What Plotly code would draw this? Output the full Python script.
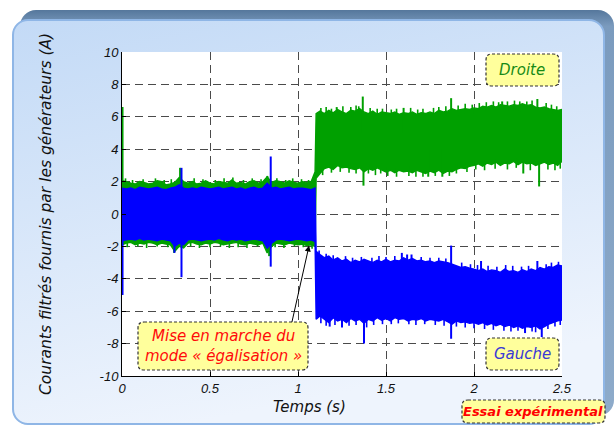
import base64
import plotly.graph_objects as go

# ---------------- data ----------------
t_pre = [0.0, 0.025, 0.05, 0.075, 0.1, 0.125, 0.15, 0.175, 0.2,
         0.225, 0.25, 0.275, 0.3, 0.325, 0.35, 0.375, 0.4, 0.425,
         0.45, 0.475, 0.5, 0.525, 0.55, 0.575, 0.6, 0.625, 0.65,
         0.675, 0.7, 0.725, 0.75, 0.775, 0.8, 0.825, 0.85, 0.875,
         0.9, 0.925, 0.95, 0.975, 1.0, 1.025, 1.05, 1.075, 1.097]
green_hi_pre = [2.05, 2.0, 1.9, 1.85, 2.0, 1.95, 1.85, 1.9, 2.05,
                2.0, 1.8, 1.85, 1.95, 2.25, 2.0, 1.9, 2.0, 1.85,
                1.9, 2.05, 1.9, 1.85, 2.0, 1.95, 1.9, 2.1, 1.9,
                1.95, 1.85, 2.0, 2.05, 1.9, 2.0, 2.3, 1.95, 2.05,
                2.0, 1.9, 2.05, 1.95, 1.9, 2.0, 1.95, 2.0, 2.6]
green_lo_pre = [-1.9, -1.8, -1.75, -1.9, -1.8, -1.85, -1.75, -1.8, -1.9,
                -1.8, -1.85, -1.9, -2.3, -2.0, -2.1, -1.8, -1.75, -1.85,
                -1.9, -1.8, -1.85, -1.75, -1.8, -1.9, -1.85, -1.8, -1.75,
                -1.85, -1.9, -1.8, -1.85, -1.9, -1.8, -2.4, -2.0, -1.8,
                -1.85, -1.9, -1.8, -1.85, -1.9, -1.85, -1.95, -1.9, -2.0]
blue_hi_pre = [1.6, 1.55, 1.6, 1.5, 1.65, 1.6, 1.55, 1.6, 1.65,
               1.55, 1.5, 1.6, 1.65, 1.8, 1.6, 1.55, 1.6, 1.55,
               1.65, 1.6, 1.55, 1.6, 1.65, 1.55, 1.6, 1.65, 1.55,
               1.6, 1.5, 1.6, 1.65, 1.55, 1.6, 1.9, 1.6, 1.65,
               1.55, 1.6, 1.65, 1.55, 1.6, 1.6, 1.55, 1.5, 1.6]
blue_lo_pre = [-1.65, -1.6, -1.55, -1.6, -1.5, -1.6, -1.55, -1.6, -1.65,
               -1.55, -1.6, -1.65, -2.0, -1.8, -1.9, -1.6, -1.55, -1.6,
               -1.65, -1.6, -1.55, -1.6, -1.5, -1.6, -1.65, -1.55, -1.6,
               -1.55, -1.65, -1.6, -1.55, -1.6, -1.65, -2.1, -1.8, -1.6,
               -1.55, -1.6, -1.65, -1.6, -1.55, -1.6, -1.65, -1.6, -1.7]

t_post = [1.103, 1.125, 1.15, 1.175, 1.2, 1.225, 1.25, 1.275,
          1.3, 1.325, 1.35, 1.375, 1.4, 1.425, 1.45, 1.475,
          1.5, 1.525, 1.55, 1.575, 1.6, 1.625, 1.65, 1.675,
          1.7, 1.725, 1.75, 1.775, 1.8, 1.825, 1.85, 1.875,
          1.9, 1.925, 1.95, 1.975, 2.0, 2.025, 2.05, 2.075,
          2.1, 2.125, 2.15, 2.175, 2.2, 2.225, 2.25, 2.275,
          2.3, 2.325, 2.35, 2.375, 2.4, 2.425, 2.45, 2.475,
          2.5]
green_hi_post = [6.2, 6.35, 6.2, 6.4, 6.25, 6.45, 6.3, 6.2,
                 6.4, 6.35, 6.5, 6.3, 6.2, 6.35, 6.15, 6.3,
                 6.25, 6.2, 6.3, 6.15, 6.25, 6.2, 6.3, 6.15,
                 6.25, 6.2, 6.3, 6.2, 6.4, 6.3, 6.35, 6.5,
                 6.4, 6.45, 6.5, 6.45, 6.55, 6.5, 6.65, 6.6,
                 6.7, 6.6, 6.75, 6.7, 6.65, 6.75, 6.7, 6.8,
                 6.7, 6.75, 6.6, 6.55, 6.6, 6.5, 6.45, 6.4,
                 6.45]
green_lo_post = [2.2, 2.5, 2.8, 2.9, 2.75, 3.0, 2.85, 2.9,
                 2.8, 2.75, 2.85, 2.6, 2.8, 2.7, 2.85, 2.75,
                 2.6, 2.7, 2.55, 2.7, 2.6, 2.65, 2.55, 2.7,
                 2.6, 2.5, 2.65, 2.55, 2.7, 2.5, 2.65, 2.6,
                 2.75, 2.85, 2.8, 2.95, 3.0, 3.1, 2.95, 3.15,
                 3.05, 3.2, 3.0, 3.15, 3.1, 3.25, 3.05, 3.2,
                 3.1, 3.15, 3.0, 3.1, 3.2, 3.05, 3.15, 3.0,
                 3.25]
blue_hi_post = [-2.3, -2.5, -2.7, -2.6, -2.85, -2.7, -2.9, -2.8,
                -3.0, -2.85, -2.95, -2.8, -2.9, -3.0, -2.85, -2.95,
                -2.8, -2.95, -2.85, -2.9, -2.7, -2.85, -2.75, -2.9,
                -2.85, -2.95, -2.9, -3.0, -2.9, -2.95, -3.0, -3.1,
                -3.2, -3.3, -3.25, -3.35, -3.4, -3.5, -3.4, -3.55,
                -3.45, -3.5, -3.6, -3.4, -3.55, -3.5, -3.6, -3.45,
                -3.55, -3.4, -3.5, -3.3, -3.4, -3.25, -3.3, -3.15,
                -3.2]
blue_lo_post = [-6.5, -6.3, -6.5, -6.7, -6.4, -6.6, -6.5, -6.7,
                -6.45, -6.6, -6.5, -6.75, -6.5, -6.6, -6.4, -6.55,
                -6.45, -6.6, -6.4, -6.5, -6.45, -6.6, -6.5, -6.55,
                -6.45, -6.6, -6.5, -6.55, -6.6, -6.5, -6.65, -6.8,
                -6.6, -6.7, -6.65, -6.75, -6.7, -6.8, -6.7, -6.85,
                -6.75, -6.9, -6.8, -6.95, -6.85, -7.0, -6.9, -7.05,
                -6.95, -7.0, -6.9, -7.1, -6.95, -6.8, -6.7, -6.6,
                -6.55]

# large isolated spikes: time, low end, high end
green_spike_t = [0.003, 0.296, 0.33, 0.826, 0.836, 1.22, 1.368, 1.372,
                 1.6, 1.74, 1.82, 1.87, 2.16, 2.28, 2.36, 2.37]
green_spike_lo = [-1.9, -2.4, 1.0, 1.0, -2.6, 5.0, 5.0, 1.75,
                  5.0, 2.3, 2.3, 5.0, 5.0, 2.5, 5.0, 1.7]
green_spike_hi = [6.6, 0.0, 2.85, 2.35, 0.0, 6.6, 7.25, 4.0,
                  6.55, 4.0, 4.0, 7.15, 6.95, 4.0, 7.1, 4.0]
blue_spike_t = [0.003, 0.298, 0.338, 0.845, 1.18, 1.25, 1.375, 1.59,
                1.62, 1.645, 1.87, 2.04, 2.29, 2.36, 2.385]
blue_spike_lo = [-5.0, -2.4, -3.9, -3.25, -6.95, -7.0, -8.0, -4.0,
                 -4.0, -4.0, -7.7, -4.0, -7.35, -4.0, -7.6]
blue_spike_hi = [1.5, 0.0, 2.85, 3.55, -5.0, -5.0, -4.5, -2.4,
                 -2.5, -2.5, -1.95, -2.9, -5.0, -2.9, -5.0]

# small protrusions of the band edges (noise peaks)
green_top_peak_t = [0.02, 0.06, 0.12, 0.19, 0.24, 0.28, 0.41, 0.46, 0.53, 0.58, 0.63, 0.69,
                    0.74, 0.79, 0.88, 0.93, 0.97, 1.02, 1.06,
                    1.13, 1.16, 1.19, 1.255, 1.3, 1.33, 1.345, 1.41, 1.45, 1.48, 1.53, 1.56,
                    1.64, 1.68, 1.71, 1.77, 1.8, 1.84, 1.91, 1.95, 1.99, 2.03, 2.07, 2.11,
                    2.14, 2.19, 2.23, 2.26, 2.3, 2.33, 2.41, 2.44, 2.47]
green_top_peak_v = [2.2, 2.1, 2.15, 2.2, 2.1, 2.15, 2.2, 2.15, 2.1, 2.2, 2.25, 2.1,
                    2.2, 2.15, 2.2, 2.1, 2.2, 2.15, 2.1,
                    6.55, 6.6, 6.5, 6.65, 6.6, 6.7, 6.65, 6.55, 6.5, 6.5, 6.45, 6.5,
                    6.55, 6.45, 6.5, 6.55, 6.6, 6.65, 6.7, 6.8, 6.75, 6.85, 6.9, 6.95,
                    6.9, 6.95, 7.0, 6.95, 6.95, 7.0, 6.85, 6.75, 6.65]
green_bot_peak_t = [0.03, 0.09, 0.14, 0.2, 0.26, 0.39, 0.44, 0.5, 0.56, 0.61, 0.66, 0.71,
                    0.77, 0.87, 0.92, 0.98, 1.03, 1.08,
                    1.14, 1.19, 1.24, 1.29, 1.33, 1.4, 1.44, 1.47, 1.51, 1.56, 1.63, 1.67,
                    1.71, 1.78, 1.86, 1.9, 1.96, 2.01, 2.06, 2.12, 2.19, 2.24, 2.32, 2.42,
                    2.46, 2.49]
green_bot_peak_v = [-2.05, -2.0, -2.1, -2.0, -2.05, -2.0, -2.1, -2.05, -2.0, -2.1, -2.05, -2.1,
                    -2.0, -2.05, -2.1, -2.0, -2.05, -2.15,
                    2.4, 2.55, 2.6, 2.55, 2.5, 2.5, 2.4, 2.5, 2.35, 2.3, 2.35, 2.3,
                    2.3, 2.35, 2.35, 2.5, 2.6, 2.75, 2.7, 2.8, 2.75, 2.85, 2.7, 2.75,
                    2.7, 2.8]
blue_top_peak_t = [1.12, 1.16, 1.2, 1.27, 1.31, 1.36, 1.42, 1.46, 1.5, 1.55, 1.7, 1.75,
                   1.8, 1.84, 1.93, 1.98, 2.02, 2.08, 2.13, 2.18, 2.22, 2.27, 2.31, 2.41,
                   2.44, 2.48]
blue_top_peak_v = [-2.25, -2.45, -2.55, -2.6, -2.7, -2.65, -2.7, -2.6, -2.65, -2.6, -2.65, -2.7,
                   -2.7, -2.75, -3.0, -3.1, -3.15, -3.2, -3.25, -3.15, -3.2, -3.25, -3.2, -3.1,
                   -3.0, -2.95]
blue_bot_peak_t = [1.13, 1.16, 1.21, 1.29, 1.33, 1.39, 1.43, 1.48, 1.53, 1.57, 1.63, 1.67,
                   1.72, 1.78, 1.83, 1.9, 1.95, 2.0, 2.06, 2.11, 2.17, 2.21, 2.25, 2.33,
                   2.35, 2.42, 2.46, 2.49]
blue_bot_peak_v = [-6.75, -6.9, -6.85, -6.9, -6.85, -7.0, -6.85, -6.8, -6.8, -6.75, -6.8, -6.85,
                   -6.8, -6.85, -6.9, -6.95, -7.0, -7.05, -7.1, -7.15, -7.2, -7.25, -7.2, -7.25,
                   -7.3, -7.1, -6.95, -6.85]

x_ticks = [0, 0.5, 1, 1.5, 2, 2.5]
x_ticklabels = ["0", "0.5", "1", "1.5", "2", "2.5"]
y_ticks = [-10, -8, -6, -4, -2, 0, 2, 4, 6, 8, 10]
y_ticklabels = ["-10", "-8", "-6", "-4", "-2", "0", "2", "4", "6", "8", "10"]

GREEN = "#00a000"
BLUE = "#0000ff"

# ---------------- geometry helpers ----------------
W, H = 615, 426
L, R, T, B = 122, 53, 52, 50
PW, PH = W - L - R, H - T - B


def pp(x, y):
    return (x - L) / PW, (H - B - y) / PH


def rr_path(x0, y0, x1, y1, r):
    pts = [("M", [(x0 + r, y0)]), ("L", [(x1 - r, y0)]), ("Q", [(x1, y0), (x1, y0 + r)]),
           ("L", [(x1, y1 - r)]), ("Q", [(x1, y1), (x1 - r, y1)]), ("L", [(x0 + r, y1)]),
           ("Q", [(x0, y1), (x0, y1 - r)]), ("L", [(x0, y0 + r)]), ("Q", [(x0, y0), (x0 + r, y0)])]
    s = ""
    for cmd, ps in pts:
        s += cmd + " " + " ".join("%.5f,%.5f" % pp(px, py) for px, py in ps) + " "
    return s + "Z"


def band(t, hi, lo):
    return list(t) + list(t)[::-1], list(hi) + list(lo)[::-1]


def spikes(t, lo, hi):
    xs, ys = [], []
    for a, b, c in zip(t, lo, hi):
        xs += [a, a, None]
        ys += [b, c, None]
    return xs, ys


def peaks(t, v, hi_t, hi_v, lo_t, lo_v, inward):
    # vertical ticks from inside the band out to the peak value
    xs, ys = [], []
    for a, b in zip(t, v):
        xs += [a, a, None]
        ys += [b, b - inward if b > 0 else b + inward, None]
    return xs, ys


fig = go.Figure()


def add_lines(xs, ys, color, width):
    fig.add_trace(go.Scatter(x=xs, y=ys, mode="lines", line=dict(color=color, width=width),
                             hoverinfo="skip"))


gx, gy = band(t_pre + t_post, green_hi_pre + green_hi_post, green_lo_pre + green_lo_post)
fig.add_trace(go.Scatter(x=gx, y=gy, fill="toself", fillcolor=GREEN, mode="lines",
                         line=dict(color=GREEN, width=1.4), hoverinfo="skip"))
add_lines(*spikes(green_spike_t, green_spike_lo, green_spike_hi), GREEN, 2)
gt = [(a, b, b - 0.6) for a, b in zip(green_top_peak_t, green_top_peak_v)]
add_lines(*spikes([g[0] for g in gt], [g[2] for g in gt], [g[1] for g in gt]), GREEN, 1.6)
gb = [(a, b, b + 0.6) for a, b in zip(green_bot_peak_t, green_bot_peak_v)]
add_lines(*spikes([g[0] for g in gb], [g[1] for g in gb], [g[2] for g in gb]), GREEN, 1.6)

bx, by = band(t_pre + t_post, blue_hi_pre + blue_hi_post, blue_lo_pre + blue_lo_post)
fig.add_trace(go.Scatter(x=bx, y=by, fill="toself", fillcolor=BLUE, mode="lines",
                         line=dict(color=BLUE, width=1.4), hoverinfo="skip"))
add_lines(*spikes(blue_spike_t, blue_spike_lo, blue_spike_hi), BLUE, 2)
bt = [(a, b, b - 0.6) for a, b in zip(blue_top_peak_t, blue_top_peak_v)]
add_lines(*spikes([g[0] for g in bt], [g[2] for g in bt], [g[1] for g in bt]), BLUE, 1.6)
bb = [(a, b, b + 0.6) for a, b in zip(blue_bot_peak_t, blue_bot_peak_v)]
add_lines(*spikes([g[0] for g in bb], [g[1] for g in bb], [g[2] for g in bb]), BLUE, 1.6)

# ---------------- panel background (svg image) ----------------
svg = """<svg xmlns="http://www.w3.org/2000/svg" width="615" height="426" viewBox="0 0 615 426">
<defs>
<linearGradient id="bv" x1="0" y1="0" x2="0" y2="1">
<stop offset="0" stop-color="#55779c"/><stop offset="0.04" stop-color="#7b9bbe"/><stop offset="1" stop-color="#8eabca"/>
</linearGradient>
<linearGradient id="pn" x1="0" y1="0" x2="0.3" y2="1">
<stop offset="0" stop-color="#c3daf6"/><stop offset="1" stop-color="#eef4fd"/>
</linearGradient>
</defs>
<rect x="20" y="10" width="594" height="406" rx="16" fill="url(#bv)"/>
<rect x="13" y="20" width="591" height="404" rx="15" fill="url(#pn)" stroke="#8fb6e6" stroke-width="2"/>
</svg>"""
uri = "data:image/svg+xml;base64," + base64.b64encode(svg.encode()).decode()
x0p, y0p = pp(0, 0)
images = [dict(source=uri, xref="paper", yref="paper", x=x0p, y=y0p, sizex=W / PW, sizey=H / PH,
               xanchor="left", yanchor="top", sizing="stretch", layer="below")]

shapes = [dict(type="rect", xref="paper", yref="paper", x0=0, y0=0, x1=1, y1=1,
               fillcolor="white", line=dict(width=0), layer="below")]
boxes = [(486, 54, 559, 86), (486, 338, 559, 370), (138, 322, 308, 370), (462, 400, 605, 423)]
for (a, b, c, d) in boxes:
    shapes.append(dict(type="path", xref="paper", yref="paper", path=rr_path(a, b, c, d, 6),
                       fillcolor="#ffff9c", line=dict(color="#333333", width=1.2, dash="3px,2px"),
                       layer="above"))

TF = "DejaVu Sans"
annotations = []


def ann(px, py, text, color, size, bold=False, rot=0):
    x, y = pp(px, py)
    annotations.append(dict(x=x, y=y, xref="paper", yref="paper", text=text, showarrow=False,
                            textangle=rot, xanchor="center", yanchor="middle",
                            font=dict(family=TF, size=size, color=color, style="italic",
                                      weight="bold" if bold else "normal")))


ann(522, 70, "Droite", "#168a16", 15)
ann(522, 354, "Gauche", "#3a3ad6", 15)
ann(223, 346, "Mise en marche du<br>mode « égalisation »", "#ff0a0a", 15)
ann(533, 411, "Essai expérimental", "#ff0000", 13, bold=True)
ann(309, 407, "Temps (s)", "#111111", 15)
ann(46, 214, "Courants filtrés fournis par les générateurs (A)", "#111111", 15.5, rot=-90)

annotations.append(dict(x=1.063, y=-1.95, xref="x", yref="y", text="", showarrow=True,
                        ax=-17.5, ay=78, arrowhead=2, arrowsize=1.2, arrowwidth=1,
                        arrowcolor="black", standoff=0))

axis_common = dict(showgrid=True, gridcolor="#4a4a4a", gridwidth=1, griddash="8px,5px",
                   showline=True, linecolor="black", linewidth=1, ticks="inside", ticklen=4,
                   tickcolor="black", zeroline=False,
                   tickfont=dict(family="Liberation Sans", size=13, color="#111111", style="italic"))

fig.update_layout(
    width=W, height=H, margin=dict(l=L, r=R, t=T, b=B),
    paper_bgcolor="white", plot_bgcolor="white", showlegend=False, hovermode=False,
    xaxis=dict(range=[0, 2.5], tickvals=x_ticks, ticktext=x_ticklabels, **axis_common),
    yaxis=dict(range=[-10, 10], tickvals=y_ticks, ticktext=y_ticklabels, **axis_common),
    images=images, shapes=shapes, annotations=annotations,
)

fig.write_html("out.html", config={"displayModeBar": False},
               post_script="document.body.style.margin='0';document.body.style.overflow='hidden';")
